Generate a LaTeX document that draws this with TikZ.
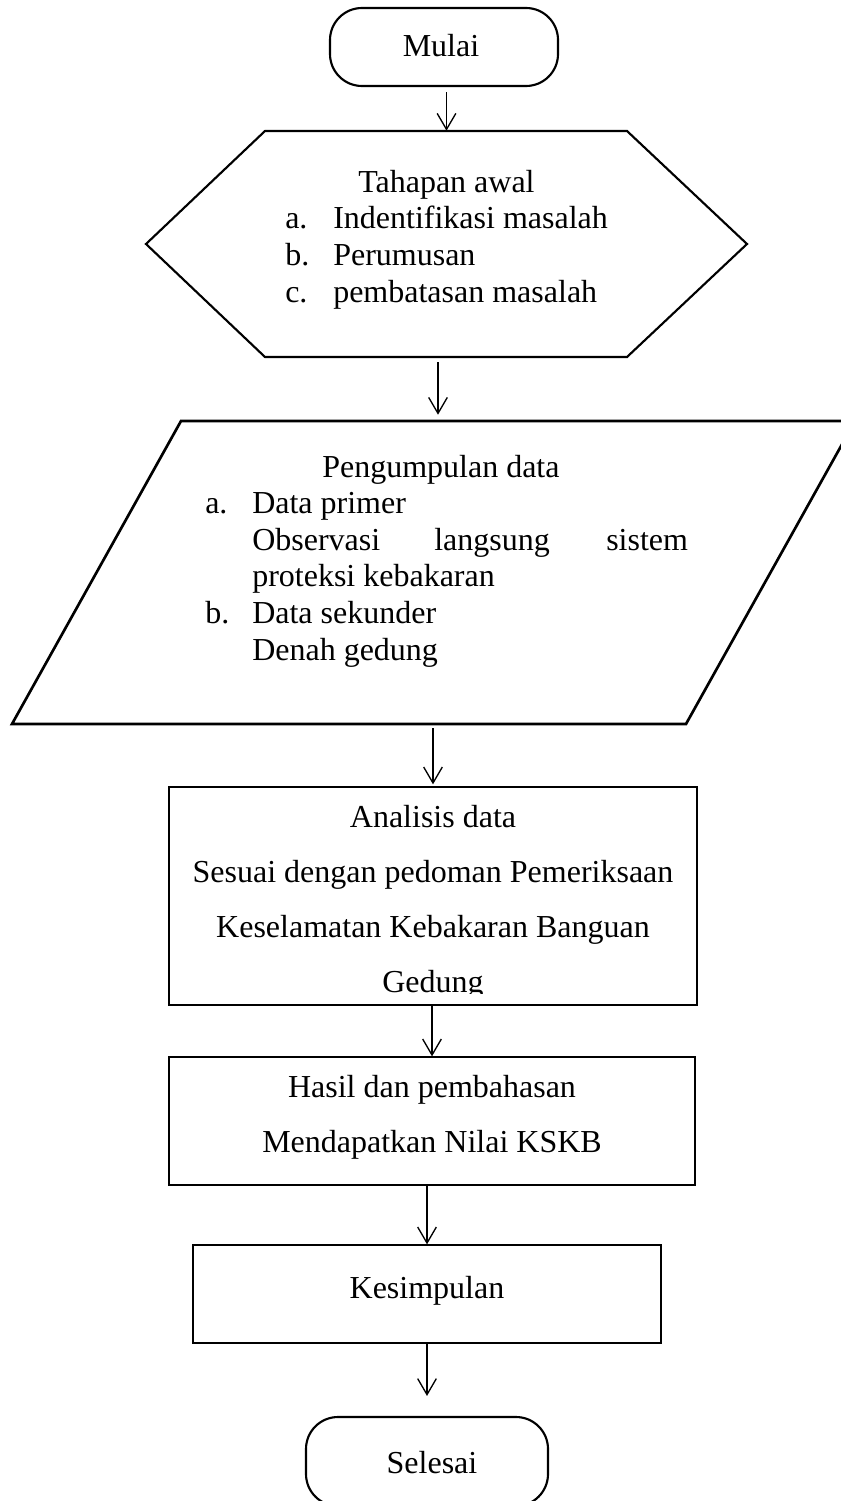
\documentclass[tikz,border=0pt]{standalone}
\usepackage{fontspec}
\setmainfont{Liberation Serif}
\usetikzlibrary{arrows.meta,fit}
\begin{document}
\begin{tikzpicture}[x=0.75pt,y=-0.75pt,
  txt/.style={inner sep=0pt, font=\fontsize{24pt}{29pt}\selectfont},
  lt/.style={txt, anchor=base west},
  ct/.style={txt, anchor=base},
  term/.style={draw, line width=1.6pt, rounded corners=24pt, inner sep=0pt},
  frame/.style={inner sep=0pt},
  box/.style={draw, line width=1pt, inner sep=0pt},
  shp/.style={line width=1.6pt, line join=miter},
  arr/.style={-{Straight Barb[length=12pt,width=14pt]}, line width=1pt}]

\useasboundingbox (0,0) rectangle (841,1501);

% Mulai
\node[term, fit={(330,8) (558,86)}] (mulai) {};
\node[ct] (tmulai) at (441,57) {Mulai};

% Hexagon
\node[frame, fit={(146,131) (747,357)}] (hex) {};
\draw[shp] (146,244) -- (265,131) -- (627,131) -- (747,244) -- (627,357) -- (265,357) -- cycle;
\node[lt] (h0) at (358,193) {Tahapan awal};
\node[lt] (h1a) at (285,229) {a.};
\node[lt] (h1b) at (333,229) {Indentifikasi masalah};
\node[lt] (h2a) at (285,266) {b.};
\node[lt] (h2b) at (333,266) {Perumusan};
\node[lt] (h3a) at (285,303) {c.};
\node[lt] (h3b) at (333,303) {pembatasan masalah};

% Parallelogram
\node[frame, fit={(12,421) (855,724)}] (para) {};
\draw[line width=2pt, line join=miter] (181,421) -- (855,421) -- (686,724) -- (12,724) -- cycle;
\node[lt] (p0) at (322,477) {Pengumpulan data};
\node[lt] (p1a) at (205,513) {a.};
\node[lt] (p1b) at (252,513) {Data primer};
\node[lt] (p2a) at (252,550) {Observasi};
\node[lt] (p2b) at (434,550) {langsung};
\node[lt] (p2c) at (606,550) {sistem};
\node[lt] (p3) at (252,586) {proteksi kebakaran};
\node[lt] (p4a) at (205,623) {b.};
\node[lt] (p4b) at (252,623) {Data sekunder};
\node[lt] (p5) at (252,660) {Denah gedung};

% Analisis
\node[box, fit={(169,787) (697,1005)}] (ana) {};
\node[ct] (a0) at (433,827) {Analisis data};
\node[ct] (a1) at (433,882) {Sesuai dengan pedoman Pemeriksaan};
\node[ct] (a2) at (433,937) {Keselamatan Kebakaran Banguan};
\begin{scope}
  \clip (169,787) rectangle (697,993);
  \node[ct] (a3) at (433,992) {Gedung};
\end{scope}

% Hasil
\node[box, fit={(169,1057) (695,1185)}] (hasil) {};
\node[ct] (s0) at (432,1097) {Hasil dan pembahasan};
\node[ct] (s1) at (432,1152) {Mendapatkan Nilai KSKB};

% Kesimpulan
\node[box, fit={(193,1245) (661,1343)}] (kes) {};
\node[ct] (k0) at (427,1298) {Kesimpulan};

% Selesai
\node[term, fit={(306,1417) (548,1506)}] (selesai) {};
\node[ct] (tsel) at (432,1473) {Selesai};

% Connectors
\coordinate (c2) at (438,357);
\draw[arr, shorten <=4pt] (mulai.south -| hex.north) -- (hex.north);
\draw[arr, shorten <=4pt, shorten >=4.5pt] (c2) -- (c2 |- para.north);
\draw[arr, shorten <=3pt, shorten >=1.5pt] (ana.north |- para.south) -- (ana.north);
\draw[arr] (hasil.north |- ana.south) -- (hasil.north);
\draw[arr] (kes.north |- hasil.south) -- (kes.north);
\draw[arr, shorten >=15pt] (kes.south) -- (selesai.north);
\end{tikzpicture}
\end{document}
